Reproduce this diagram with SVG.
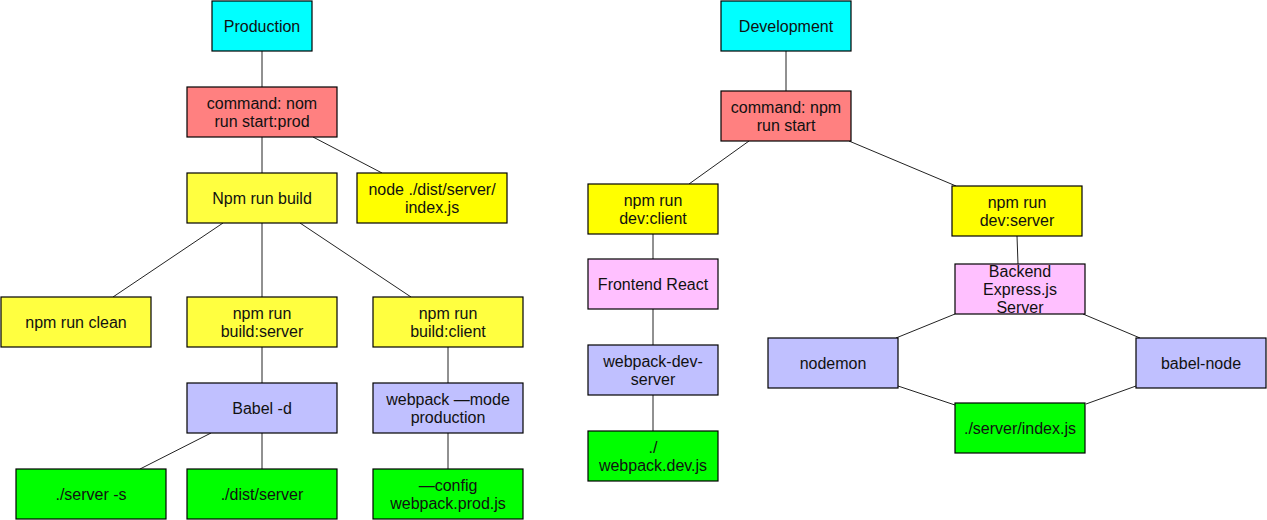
<svg xmlns="http://www.w3.org/2000/svg" width="1267" height="520" viewBox="0 0 1267 520">
<style>
  .box { stroke: #000; stroke-width: 1.2; }
  .cyan { fill: #00ffff; }
  .red { fill: #ff8080; }
  .ylw { fill: #ffff40; }
  .ylw2 { fill: #ffff00; }
  .blue { fill: #c0c0ff; }
  .green { fill: #00ff00; }
  .pink { fill: #ffc0ff; }
  text { font-family: "Liberation Sans", Arial, Helvetica, sans-serif; font-size: 16px; fill: #111; text-anchor: middle; dominant-baseline: central; }
  .conn line { stroke: #222; stroke-width: 1; }
</style>
<rect width="1267" height="520" fill="#ffffff"/>
<g class="conn" id="connectors">
  <line x1="262" y1="51" x2="262" y2="87"/>
  <line x1="262" y1="137" x2="262" y2="173"/>
  <line x1="313" y1="137" x2="382" y2="173"/>
  <line x1="223" y1="223" x2="113" y2="297"/>
  <line x1="262" y1="223" x2="262" y2="297"/>
  <line x1="300" y1="223" x2="411" y2="297"/>
  <line x1="262" y1="347" x2="262" y2="383"/>
  <line x1="448" y1="347" x2="448" y2="383"/>
  <line x1="211" y1="433" x2="140" y2="469"/>
  <line x1="262" y1="433" x2="262" y2="469"/>
  <line x1="448" y1="433" x2="448" y2="469"/>
  <line x1="786" y1="51" x2="786" y2="91"/>
  <line x1="749" y1="141" x2="689" y2="184"/>
  <line x1="849" y1="141" x2="956" y2="186"/>
  <line x1="653" y1="234" x2="653" y2="259"/>
  <line x1="653" y1="309" x2="653" y2="345"/>
  <line x1="653" y1="395" x2="653" y2="431"/>
  <line x1="1017" y1="236" x2="1018" y2="264"/>
  <line x1="955" y1="314" x2="896" y2="338"/>
  <line x1="1083" y1="314" x2="1140" y2="338"/>
  <line x1="898" y1="386" x2="955" y2="405"/>
  <line x1="1136" y1="386" x2="1086" y2="404"/>
</g>
<g id="production">
  <rect class="box cyan" x="212" y="1" width="100" height="50"/>
  <text x="262" y="26">Production</text>
</g>
<g id="cmd-prod">
  <rect class="box red" x="187" y="87" width="150" height="50"/>
  <text x="262" y="103">command: nom</text>
  <text x="262" y="121">run start:prod</text>
</g>
<g id="npm-run-build">
  <rect class="box ylw" x="187" y="173" width="150" height="50"/>
  <text x="262" y="198">Npm run build</text>
</g>
<g id="node-dist">
  <rect class="box ylw2" x="357" y="173" width="150" height="50"/>
  <text x="432" y="189">node ./dist/server/</text>
  <text x="432" y="207">index.js</text>
</g>
<g id="npm-run-clean">
  <rect class="box ylw" x="1" y="297" width="150" height="50"/>
  <text x="76" y="322">npm run clean</text>
</g>
<g id="build-server">
  <rect class="box ylw" x="187" y="297" width="150" height="50"/>
  <text x="262" y="313">npm run</text>
  <text x="262" y="331">build:server</text>
</g>
<g id="build-client">
  <rect class="box ylw" x="373" y="297" width="150" height="50"/>
  <text x="448" y="313">npm run</text>
  <text x="448" y="331">build:client</text>
</g>
<g id="babel-d">
  <rect class="box blue" x="187" y="383" width="150" height="50"/>
  <text x="262" y="408">Babel -d</text>
</g>
<g id="webpack-mode">
  <rect class="box blue" x="373" y="383" width="150" height="50"/>
  <text x="448" y="399">webpack —mode</text>
  <text x="448" y="417">production</text>
</g>
<g id="server-s">
  <rect class="box green" x="16" y="469" width="150" height="50"/>
  <text x="91" y="494">./server -s</text>
</g>
<g id="dist-server">
  <rect class="box green" x="187" y="469" width="150" height="50"/>
  <text x="262" y="494">./dist/server</text>
</g>
<g id="config-prod">
  <rect class="box green" x="373" y="469" width="150" height="50"/>
  <text x="448" y="485">—config</text>
  <text x="448" y="503">webpack.prod.js</text>
</g>
<g id="development">
  <rect class="box cyan" x="721" y="1" width="130" height="50"/>
  <text x="786" y="26">Development</text>
</g>
<g id="cmd-dev">
  <rect class="box red" x="721" y="91" width="130" height="50"/>
  <text x="786" y="107">command: npm</text>
  <text x="786" y="125">run start</text>
</g>
<g id="dev-client">
  <rect class="box ylw2" x="588" y="184" width="130" height="50"/>
  <text x="653" y="200">npm run</text>
  <text x="653" y="218">dev:client</text>
</g>
<g id="dev-server">
  <rect class="box ylw2" x="952" y="186" width="130" height="50"/>
  <text x="1017" y="202">npm run</text>
  <text x="1017" y="220">dev:server</text>
</g>
<g id="frontend-react">
  <rect class="box pink" x="588" y="259" width="130" height="50"/>
  <text x="653" y="284">Frontend React</text>
</g>
<g id="webpack-dev-server">
  <rect class="box blue" x="588" y="345" width="130" height="50"/>
  <text x="653" y="361">webpack-dev-</text>
  <text x="653" y="379">server</text>
</g>
<g id="webpack-dev-js">
  <rect class="box green" x="588" y="431" width="130" height="50"/>
  <text x="653" y="447">./</text>
  <text x="653" y="465">webpack.dev.js</text>
</g>
<g id="backend">
  <rect class="box pink" x="955" y="264" width="130" height="50"/>
  <text x="1020" y="271">Backend</text>
  <text x="1020" y="289">Express.js</text>
  <text x="1020" y="307">Server</text>
</g>
<g id="nodemon">
  <rect class="box blue" x="768" y="338" width="130" height="50"/>
  <text x="833" y="363">nodemon</text>
</g>
<g id="babel-node">
  <rect class="box blue" x="1136" y="338" width="130" height="50"/>
  <text x="1201" y="363">babel-node</text>
</g>
<g id="server-index">
  <rect class="box green" x="955" y="403" width="130" height="50"/>
  <text x="1020" y="428">./server/index.js</text>
</g>
</svg>
